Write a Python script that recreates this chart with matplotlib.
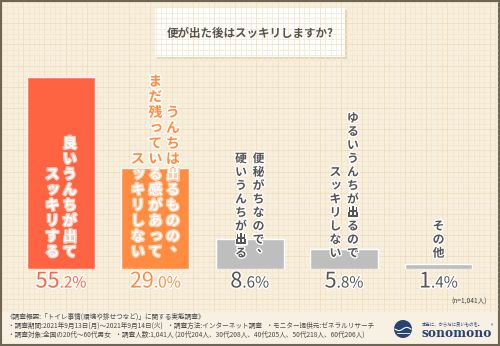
import matplotlib
matplotlib.use("Agg")
import numpy as np
import matplotlib.pyplot as plt
import matplotlib.patheffects as pe
from matplotlib.patches import Rectangle, Circle

plt.rcParams['font.family'] = ['Noto Sans CJK JP', 'DejaVu Sans']

# --- data -------------------------------------------------------------
title = "便が出た後はスッキリしますか?"
label_columns = [
    ["良いうんちが出て", "スッキリする"],
    ["うんちは出るものの、", "まだ残っている感があって", "スッキリしない"],
    ["便秘がちなので、", "硬いうんちが出る"],
    ["ゆるいうんちが出るので", "スッキリしない"],
    ["その他"],
]
values = [55.2, 29.0, 8.6, 5.8, 1.4]
bar_colors = ["#FF6442", "#FF8C40", "#BEBEBE", "#BEBEBE", "#BEBEBE"]
pct_colors = ["#FF6442", "#FF8C40", "#555555", "#555555", "#555555"]
n_note = "(n=1,041人)"
footer_lines = [
    "《調査概要:「トイレ事情(環境や排せつなど)」に関する実態調査》",
    "・調査期間:2021年9月13日(月)～2021年9月14日(火)   ・調査方法:インターネット調査   ・モニター提供元:ゼネラルリサーチ",
    "・調査対象:全国の20代～60代男女   ・調査人数:1,041人 (20代204人、30代208人、40代205人、50代218人、60代206人)",
]

W, H = 500, 346
fig = plt.figure(figsize=(W / 100, H / 100), dpi=100)

# background layer in pixel coordinates
bg = fig.add_axes([0, 0, 1, 1], zorder=0)
bg.set_xlim(0, W)
bg.set_ylim(H, 0)
bg.axis("off")
bg.add_patch(Rectangle((0, 0), W, H, facecolor="#F8EEDC", edgecolor="none"))

# graph paper pattern
gx = np.arange(2, W, 5.3)
gy = np.arange(2, 312, 5.3)
for k, x in enumerate(gx):
    bg.vlines(x, 2, 312, color="#EDD9B8" if k % 4 == 0 else "#F3E5CD", lw=0.5)
for k, y in enumerate(gy):
    bg.hlines(y, 2, W - 2, color="#EDD9B8" if k % 4 == 0 else "#F3E5CD", lw=0.5)

# footer band and frame
bg.add_patch(Rectangle((2, 312), W - 4, H - 314, facecolor="#F7F0E3", edgecolor="none"))
bg.add_patch(Rectangle((1, 1), W - 2, H - 2, fill=False, edgecolor="#6E6652", lw=1.5))

# title box
bg.add_patch(Rectangle((157, 10), 190, 49, facecolor="#E6D7BA", edgecolor="none"))
bg.add_patch(Rectangle((155, 8), 190, 49, facecolor="white", edgecolor="none"))
bg.text(250, 33, title, ha="center", va="center", fontsize=8.3,
        fontweight="bold", color="#5B5349")

# --- bars -------------------------------------------------------------
ax = fig.add_axes([13.8 / W, 77 / H, 471.9 / W, 208.7 / H], zorder=1)
ax.set_xlim(-0.5, 4.5)
ax.set_ylim(0, 60)
ax.axis("off")
ax.patch.set_alpha(0)
bars = ax.bar(range(len(values)), values, width=0.72, color=bar_colors,
              edgecolor="white", linewidth=1.0)

# foreground text layer in pixel coordinates
fg = fig.add_axes([0, 0, 1, 1], zorder=3)
fg.set_xlim(0, W)
fg.set_ylim(H, 0)
fg.axis("off")
fg.patch.set_alpha(0)

cx = [ax.transData.transform((i, 0))[0] for i in range(len(values))]


def draw_column(text, x, y_bottom, pitch, size, color, stroke, clip):
    n = len(text)
    for k, ch in enumerate(text):
        y = y_bottom - (n - k - 0.5) * pitch
        dx, dy = 0, 0
        if ch in "、。":
            dx, dy = pitch * 0.32, -pitch * 0.38
        elif ch in "っッ":
            dx, dy = pitch * 0.06, -pitch * 0.06
        t = fg.text(x + dx, y + dy, ch, ha="center", va="center", fontsize=size,
                    fontweight="bold", color=color,
                    path_effects=[pe.withStroke(linewidth=2, foreground=stroke)])
        t.set_clip_on(True)
        t.set_clip_path(clip)


# (outside colour, outside stroke, inside colour, inside stroke)
styles = [
    ("#FF6442", "white", "white", "#FFCDBE"),
    ("#FF8C40", "white", "white", "#FFD0AE"),
    ("#555555", "white", "#555555", "white"),
    ("#555555", "white", "#555555", "white"),
    ("#555555", "white", "#555555", "white"),
]

for i, cols in enumerate(label_columns):
    big = i < 2
    pitch = 15.5 if big else 13.5
    size = 10 if big else 8.5
    gap = 17.5
    out_c, out_s, in_c, in_s = styles[i]
    outside = Rectangle((i - 0.5, values[i]), 1, 200, transform=ax.transData)
    inside = bars[i]
    for j, col in enumerate(cols):
        x = cx[i] + ((len(cols) - 1) / 2 - j) * gap
        draw_column(col, x, 260, pitch, size, out_c, out_s, outside)
        draw_column(col, x, 260, pitch, size, in_c, in_s, inside)

# percentage labels: large integer part + small decimals
renderer = fig.canvas.get_renderer()
for i, v in enumerate(values):
    s = f"{v:.1f}"
    head, tail = s.split(".")
    stroke = [pe.withStroke(linewidth=2, foreground="white")]
    t1 = fg.text(0, 287.5, head, ha="left", va="baseline", fontsize=15.5,
                 color=pct_colors[i], path_effects=stroke)
    t2 = fg.text(0, 287.5, "." + tail + "%", ha="left", va="baseline", fontsize=11,
                 color=pct_colors[i], path_effects=stroke)
    w1 = t1.get_window_extent(renderer).width
    w2 = t2.get_window_extent(renderer).width
    x0 = cx[i] - (w1 + w2) / 2
    t1.set_x(x0)
    t2.set_x(x0 + w1)

fg.text(487, 302, n_note, ha="right", va="center", fontsize=4.8, color="#444444")

# footer
fg.text(6, 317, footer_lines[0], ha="left", va="center", fontsize=4.8, color="#4A4A4A")
fg.text(8, 326, footer_lines[1], ha="left", va="center", fontsize=4.8, color="#4A4A4A")
fg.text(8, 335, footer_lines[2], ha="left", va="center", fontsize=4.8, color="#4A4A4A")

# logo
navy = "#2A4471"
fg.add_patch(Circle((403, 329), 9, facecolor=navy, edgecolor="none"))
wx = np.linspace(395, 411, 30)
fg.plot(wx, 329 + 1.6 * np.sin((wx - 395) / 2.5), color="white", lw=0.8)
fg.plot([397, 409], [333, 333], color="white", lw=0.6)
fg.text(422, 324, "本当に、からだに良いものを。", ha="left", va="center",
        fontsize=3.2, color=navy)
fg.text(421, 333.5, "sonomono", ha="left", va="center", fontsize=8.8,
        family="DejaVu Serif", fontweight="bold", color=navy)
fg.text(491, 327, "®", ha="left", va="center", fontsize=3.5, color=navy)

fig.savefig("out.png", dpi=100)
plt.close(fig)
